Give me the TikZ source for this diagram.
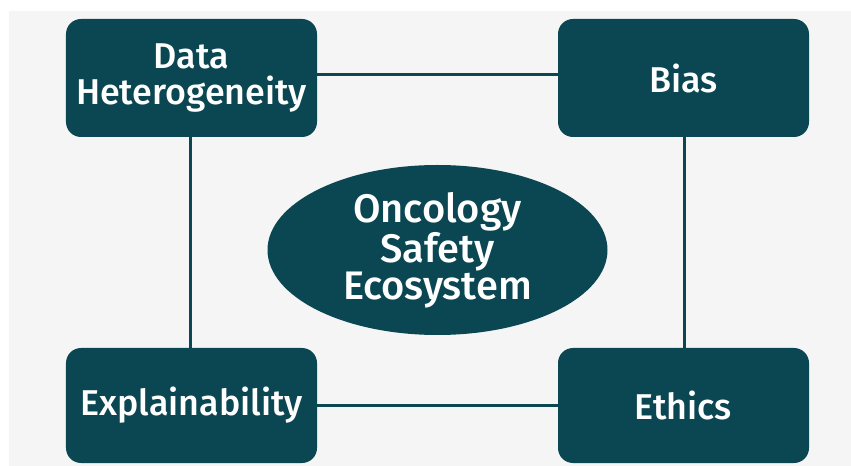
\documentclass[tikz,border=0pt]{standalone}
\usepackage{fontspec}
\setmainfont{Fira Sans}[UprightFont={* Medium}]
\usetikzlibrary{shapes.geometric}
\definecolor{teal}{HTML}{0B4752}
\definecolor{bgpaper}{HTML}{F5F5F5}
\tikzset{
  topic/.style={draw=none, fill=teal, rounded corners=15bp, minimum width=251bp,
    minimum height=118bp, text=white, align=center, font=\fontsize{36}{36}\selectfont},
  hub/.style={ellipse, fill=teal, minimum width=340bp, minimum height=170bp,
    text=white, align=center, font=\fontsize{40}{37}\selectfont, inner sep=0pt},
  link/.style={draw=teal, line width=3bp}
}
\begin{document}
\begin{tikzpicture}[x=1bp, y=-1bp]
  \useasboundingbox (0,0) rectangle (851,466);
  \fill[white] (0,0) rectangle (851,466);
  \fill[bgpaper] (9,11) rectangle (851,466);
  % four topics around the hub
  \node[topic] (data) at (191.5,78) {Data\\Heterogeneity};
  \node[topic] (bias) at (683.5,78) {Bias};
  \node[topic, minimum height=115bp] (expl) at (191.5,405.5) {Explainability};
  \node[topic, minimum height=115bp] (eth) at (683.5,405.5) {Ethics};
  \node[hub] (hub) at (437.5,250) {Oncology\\Safety\\Ecosystem};
  % frame of connectors
  \draw[link] (data.east |- 0,75) -- (bias.west |- 0,75);
  \draw[link] (expl.east |- 0,405) -- (eth.west |- 0,405);
  \draw[link] (data.south -| 190,0) -- (expl.north -| 190,0);
  \draw[link] (bias.south -| 684,0) -- (eth.north -| 684,0);
\end{tikzpicture}
\end{document}
